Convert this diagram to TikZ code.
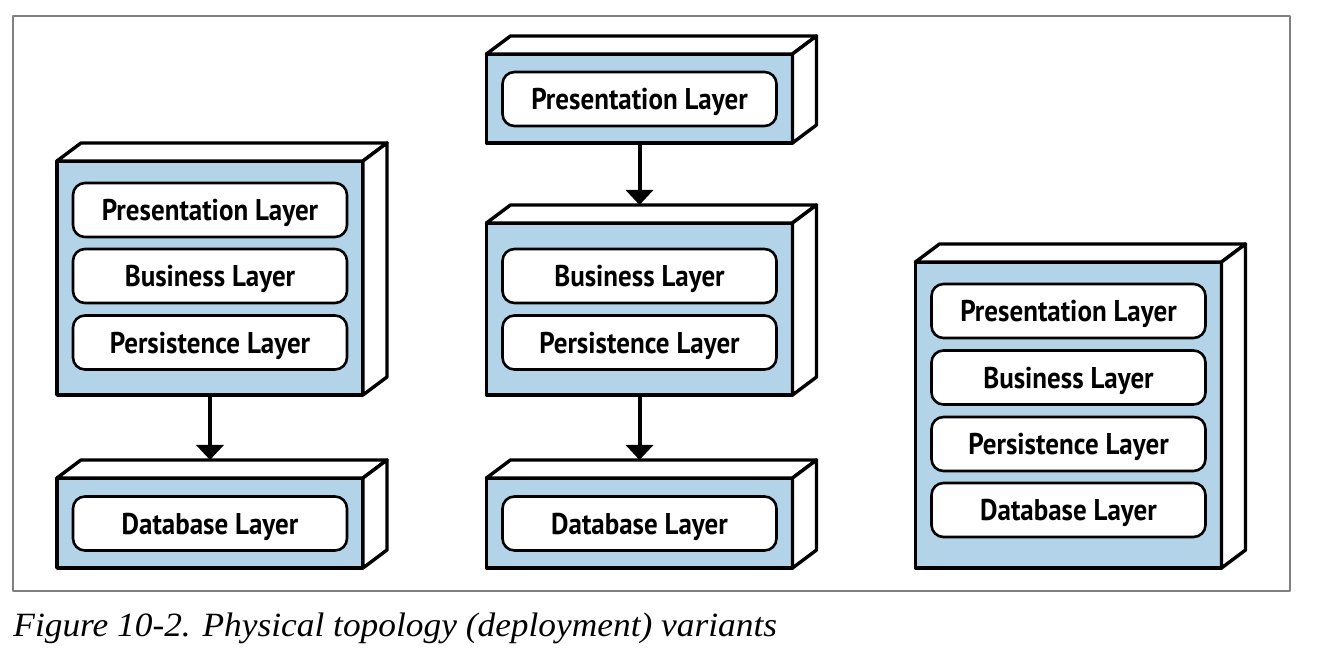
\documentclass[tikz,border=0pt]{standalone}
\usepackage{fontspec}
\setmainfont{Liberation Serif}
\setsansfont{PT Sans}[FakeStretch=0.9]
\newfontfamily\capfont{Liberation Serif}[FakeStretch=1.04]
\usetikzlibrary{arrows.meta,calc}
\definecolor{nodeblue}{RGB}{179,212,232}
\begin{document}
\begin{tikzpicture}[x=0.5pt,y=-0.5pt,line join=round,>={Triangle[width=13.5pt,length=7.5pt]}]
	\tikzset{server/.style={draw,fill=nodeblue,line width=1.7pt,minimum width=153pt,inner sep=0pt,outer sep=0pt},
		layer/.style={draw,fill=white,line width=1.3pt,rounded corners=6pt,minimum width=137pt,minimum height=27pt,inner sep=0pt,text depth=0pt,font=\sffamily\bfseries\fontsize{15}{15}\selectfont},
		face/.style={draw,fill=white,line width=1.7pt},
		link/.style={->,line width=2pt}}
	\useasboundingbox (0,0) rectangle (1330,662);
	\draw[gray,line width=0.6pt] (13,16) rectangle (1290,591);
	% servers, front face plus top and side
	\foreach \n/\cx/\cy/\h in {srvA/210/278/234,dbA/210/523/90,srvB/639.5/98.5/89,srvC/639.5/309/172,dbC/639.5/523/90,srvD/1068.5/415/306}{
		\node[server,minimum height=\h*0.5pt] (\n) at (\cx,\cy) {};
		\draw[face] (\n.north west)--++(24,-18)--($(\n.north east)+(24,-18)$)--(\n.north east)--cycle;
		\draw[face] (\n.north east)--++(24,-18)--($(\n.south east)+(24,-18)$)--(\n.south east)--cycle;
	}
	% layers
	\foreach \n/\cx/\cy/\t in {pA/210/210/Presentation Layer,bA/210/276/Business Layer,sA/210/342.5/Persistence Layer,dA/210/523.5/Database Layer,
		pC/639.5/99/Presentation Layer,bC/639.5/276/Business Layer,sC/639.5/342.5/Persistence Layer,dC/639.5/523.5/Database Layer,
		pD/1068.5/311/Presentation Layer,bD/1068.5/377.5/Business Layer,sD/1068.5/444/Persistence Layer,dD/1068.5/510/Database Layer}
	\node[layer] (\n) at (\cx,\cy) {\t};
	% connectors
	\coordinate (dbAtop) at ($(dbA.north)+(0,-18)$);
	\coordinate (srvCtop) at ($(srvC.north)+(0,-18)$);
	\coordinate (dbCtop) at ($(dbC.north)+(0,-18)$);
	\draw[link] (srvA.south)--(dbAtop);
	\draw[link] (srvB.south)--(srvCtop);
	\draw[link] (srvC.south)--(dbCtop);
	\node[anchor=base west,inner sep=0pt,font=\capfont\itshape\fontsize{17}{17}\selectfont] (caption) at (13,637) {Figure 10-2. Physical topology (deployment) variants};
\end{tikzpicture}
\end{document}
